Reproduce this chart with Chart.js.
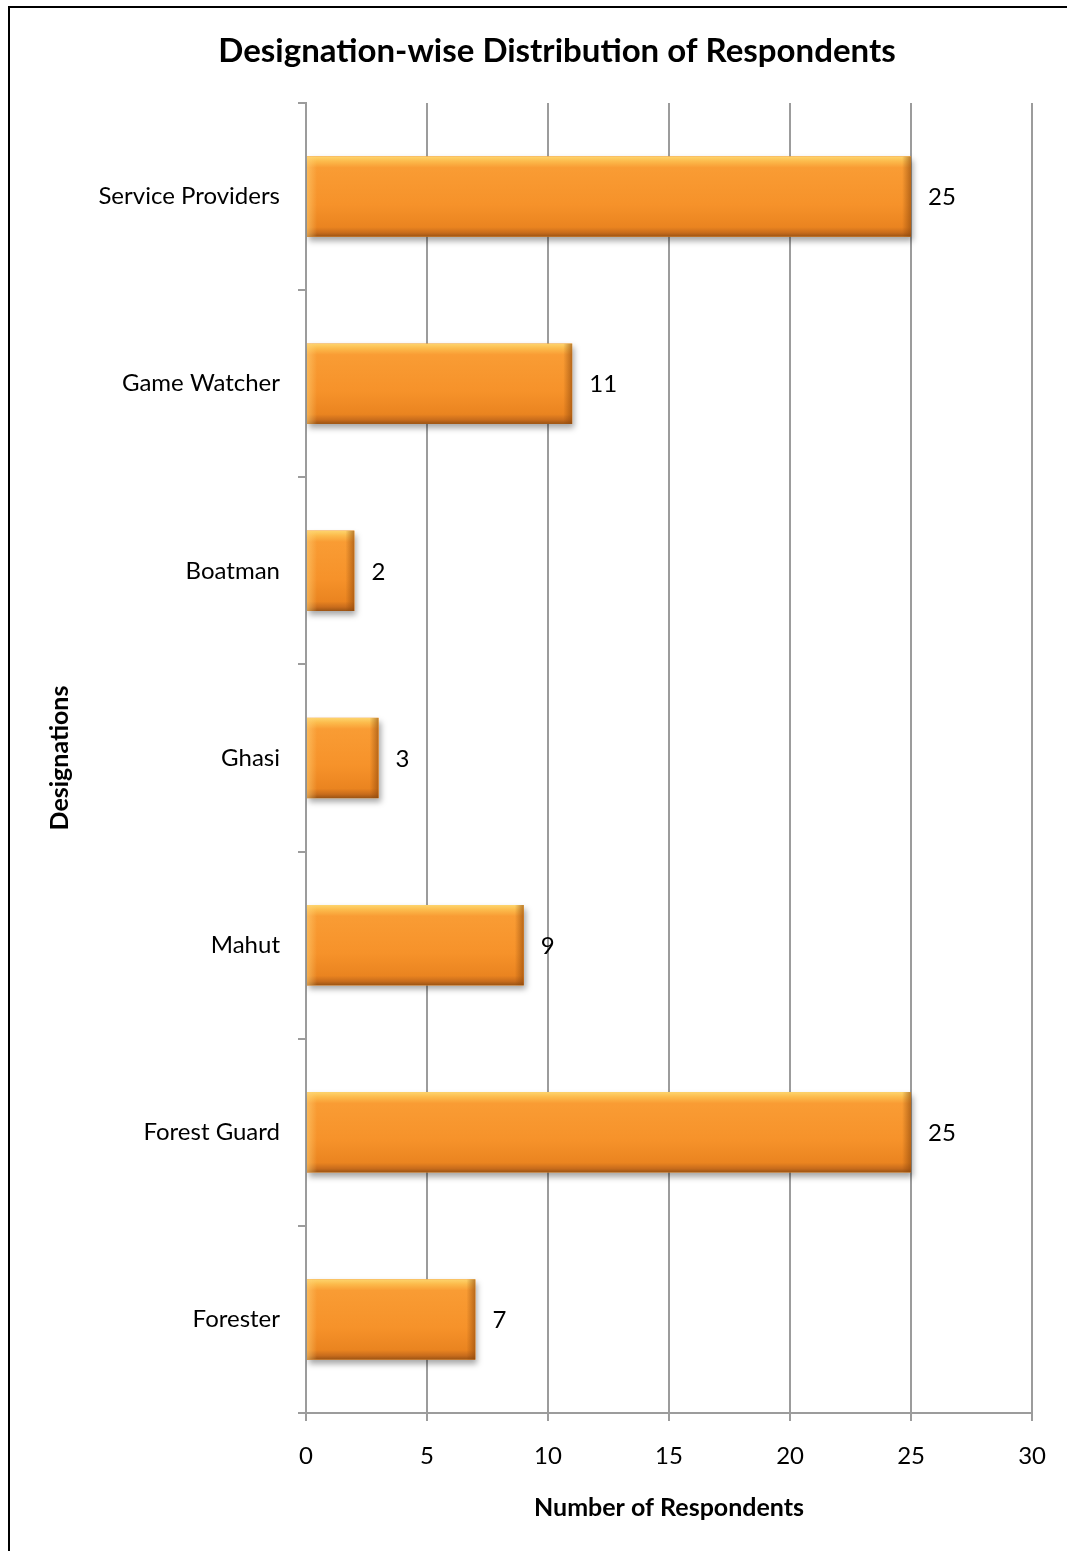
<!DOCTYPE html>
<html>
<head>
<meta charset="utf-8">
<script src="https://cdn.jsdelivr.net/npm/chart.js@4"></script>
<style>
  html, body { margin: 0; padding: 0; background: #fff; overflow: hidden; }
  #wrap { position: relative; width: 1067px; height: 1551px; overflow: hidden; }
  #frame {
    position: absolute; left: 8px; top: 6px; width: 1100px; height: 1600px;
    border-left: 2px solid #000; border-top: 2px solid #000;
    pointer-events: none;
  }
  canvas { position: absolute; left: 0; top: 0; }
</style>
</head>
<body>
<div id="wrap">
  <canvas id="designationChart" width="1067" height="1551"></canvas>
  <div id="frame"></div>
</div>
<script>
const designations = ['Service Providers', 'Game Watcher', 'Boatman', 'Ghasi', 'Mahut', 'Forest Guard', 'Forester'];
const respondents = [25, 11, 2, 3, 9, 25, 7];
const xTicks = [0, 5, 10, 15, 20, 25, 30];
const chartTitle = 'Designation-wise Distribution of Respondents';

const FONT = "Lato, 'Open Sans', sans-serif";
const GRID = '#9c9c9c';

// Title drawn centred over the whole frame, not just the chart box
const frameTitle = {
    id: 'frameTitle',
    afterDraw(chart) {
        const ctx = chart.ctx;
        ctx.save();
        ctx.fillStyle = '#000';
        ctx.font = 'bold 33px ' + FONT;
        ctx.textAlign = 'center';
        ctx.textBaseline = 'middle';
        ctx.fillText(chartTitle, 557, 51);
        ctx.restore();
    }
};

// Soft drop shadow under the bars
const barShadow = {
    id: 'barShadow',
    beforeDatasetsDraw(chart) {
        const ctx = chart.ctx;
        ctx.save();
        ctx.shadowColor = 'rgba(0, 0, 0, 0.35)';
        ctx.shadowBlur = 6;
        ctx.shadowOffsetX = 2;
        ctx.shadowOffsetY = 4;
    },
    afterDatasetsDraw(chart) {
        chart.ctx.restore();
    }
};

// Bevel shading on top of each bar + value labels
const barBevel = {
    id: 'barBevel',
    afterDatasetsDraw(chart) {
        const ctx = chart.ctx;
        const meta = chart.getDatasetMeta(0);
        meta.data.forEach((bar, i) => {
            const x0 = bar.base, x1 = bar.x;
            const y0 = bar.y - bar.height / 2, y1 = bar.y + bar.height / 2;
            const w = x1 - x0, h = y1 - y0;
            ctx.save();
            ctx.beginPath();
            ctx.rect(x0, y0, w, h);
            ctx.clip();

            const g = ctx.createLinearGradient(0, y0, 0, y1);
            g.addColorStop(0, '#fdd56e');
            g.addColorStop(0.06, '#fcbb4c');
            g.addColorStop(0.14, '#f99c34');
            g.addColorStop(0.6, '#f6922a');
            g.addColorStop(0.88, '#ea8420');
            g.addColorStop(0.95, '#c86c1c');
            g.addColorStop(1, '#9a5314');
            ctx.fillStyle = g;
            ctx.fillRect(x0, y0, w, h);

            // left light edge
            const gl = ctx.createLinearGradient(x0, 0, x0 + 10, 0);
            gl.addColorStop(0, 'rgba(255, 210, 120, 0.55)');
            gl.addColorStop(1, 'rgba(255, 210, 120, 0)');
            ctx.fillStyle = gl;
            ctx.fillRect(x0, y0, 10, h);

            // right dark edge
            const gr = ctx.createLinearGradient(x1 - 9, 0, x1, 0);
            gr.addColorStop(0, 'rgba(140, 70, 10, 0)');
            gr.addColorStop(1, 'rgba(140, 70, 10, 0.6)');
            ctx.fillStyle = gr;
            ctx.fillRect(x1 - 9, y0, 9, h);
            ctx.restore();

            ctx.save();
            ctx.fillStyle = '#000';
            ctx.font = '24px ' + FONT;
            ctx.textAlign = 'left';
            ctx.textBaseline = 'middle';
            ctx.fillText(String(respondents[i]), x1 + 17, bar.y + 1);
            ctx.restore();
        });
    }
};

const ctx = document.getElementById('designationChart').getContext('2d');
new Chart(ctx, {
    type: 'bar',
    data: {
        labels: designations,
        datasets: [{
            data: respondents,
            backgroundColor: '#f6922a',
            borderWidth: 0,
            barPercentage: 0.43,
            categoryPercentage: 1
        }]
    },
    options: {
        indexAxis: 'y',
        responsive: false,
        animation: false,
        devicePixelRatio: 1,
        layout: { padding: { left: 0, right: 33, top: 103, bottom: 0 } },
        plugins: {
            legend: { display: false },
            tooltip: { enabled: false },
            title: { display: false }
        },
        scales: {
            x: {
                min: 0,
                max: 30,
                afterBuildTicks(scale) {
                    scale.ticks = xTicks.map(v => ({ value: v }));
                },
                afterFit(scale) { scale.height = 138; },
                grid: { color: GRID, lineWidth: 2, tickLength: 8, drawTicks: true },
                border: { color: GRID, width: 2 },
                ticks: { color: '#000', padding: 21, font: { family: FONT, size: 24 } },
                title: {
                    display: true,
                    text: 'Number of Respondents',
                    color: '#000',
                    font: { family: FONT, size: 25, weight: 'bold', lineHeight: 1.2 },
                    padding: { top: 0, bottom: 28 }
                }
            },
            y: {
                afterFit(scale) { scale.width = 306; },
                grid: { color: GRID, lineWidth: 2, offset: true, drawOnChartArea: false, tickLength: 8 },
                border: { color: GRID, width: 2 },
                ticks: { color: '#000', padding: 18, font: { family: FONT, size: 24 } },
                title: {
                    display: true,
                    text: 'Designations',
                    color: '#000',
                    font: { family: FONT, size: 25, weight: 'bold', lineHeight: 1.2 },
                    padding: { top: 45, bottom: 0 }
                }
            }
        }
    },
    plugins: [barShadow, barBevel, frameTitle]
});
</script>
</body>
</html>
